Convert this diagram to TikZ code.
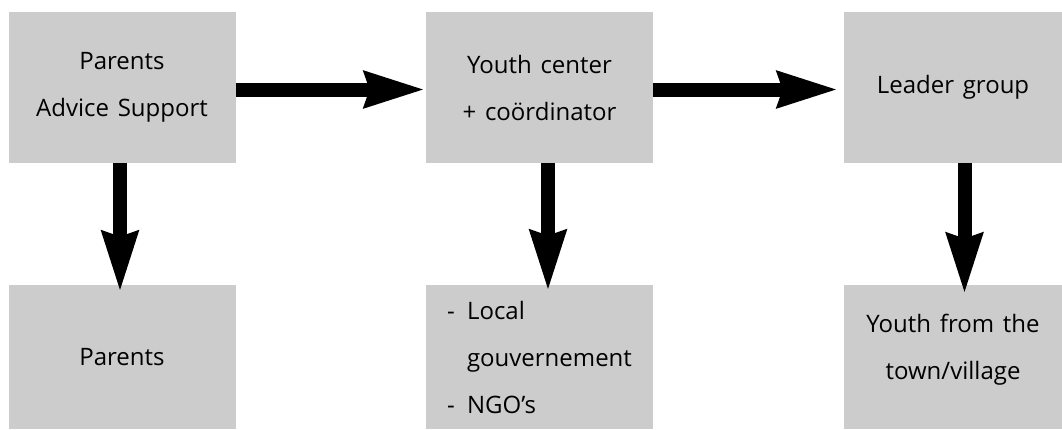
\documentclass[tikz,border=0pt]{standalone}
\usepackage{fontspec}
\setmainfont{Open Sans}[WordSpace=1.4]
\usetikzlibrary{positioning,arrows.meta}
\definecolor{boxgray}{RGB}{204,204,204}
\begin{document}
\begin{tikzpicture}[x=1pt,y=-1pt,node distance=269.5pt and 417.5pt,on grid,
    box/.style={fill=boxgray,minimum width=227pt,minimum height=151pt,inner sep=0pt,
      align=center,font=\fontsize{24pt}{47pt}\selectfont},
    low/.style={box,minimum height=144pt},
    flow/.style={line width=14pt,-{Stealth[length=60pt,width=34pt,inset=4pt]}}]
	   \useasboundingbox (0,0) rectangle (1062,429);
	   \node[box] (advice) at (122,87.5) {Parents\\Advice Support};
	   \node[box] (youth) [right=of advice] {Youth center\\+ coördinator};
	   \node[box,minimum width=218pt] (leader) [right=413.5pt of youth] {Leader group};
	   \node[low] (parents) [below=of advice] {Parents};
	   \node[low,align=left] (local) [below=of youth]
	     {\makebox[20pt][l]{-}Local\\\hspace*{20pt}gouvernement\\\makebox[20pt][l]{-}NGO’s};
	   \node[low,minimum width=218pt] (town) [below=of leader]
	     {\raisebox{10pt}[\height][\depth]{\begin{tabular}{@{}c@{}}Youth from the\\town/village\end{tabular}}};
	    \draw[flow] ([yshift=-2pt]advice.east) -- ([yshift=-2pt]youth.west);
	    \draw[flow,shorten >=5pt] ([yshift=-2pt]youth.east) -- ([yshift=-2pt]leader.west);
	    \draw[flow,shorten >=-8pt] ([xshift=-2pt]advice.south) -- ([xshift=-2pt]parents.north);
	    \draw[flow,shorten >=-7pt] ([xshift=8.5pt]youth.south) -- ([xshift=8.5pt]local.north);
	    \draw[flow,shorten >=-10pt] ([xshift=11.5pt]leader.south) -- ([xshift=11.5pt]town.north);
	\end{tikzpicture}
\end{document}
